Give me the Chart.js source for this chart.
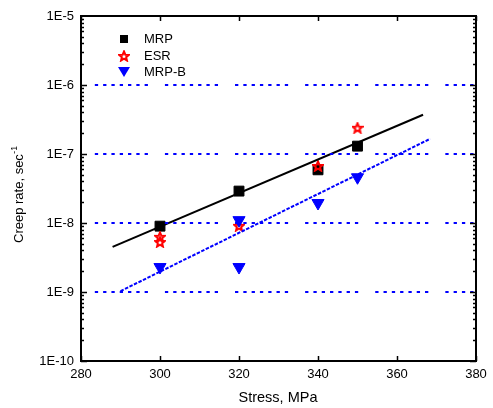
<!DOCTYPE html>
<html>
<head>
<meta charset="utf-8">
<script src="https://cdn.jsdelivr.net/npm/chart.js@4.4.1/dist/chart.umd.min.js"></script>
<style>
  html, body { margin: 0; padding: 0; background: #fff; }
  #wrap { width: 493px; height: 408px; }
</style>
</head>
<body>
<div id="wrap"><canvas id="creep_chart"></canvas></div>
<script>
// stress (MPa) and creep rate (1/s)
const mrpStress = [300, 320, 340, 350];
const mrpRate = [9.0e-9, 2.9e-8, 5.9e-8, 1.3e-7];

const esrStress = [300, 300, 320, 340, 350];
const esrRate = [6.3e-9, 5.3e-9, 9.1e-9, 6.7e-8, 2.4e-7];

const mrpbStress = [300, 320, 320, 340, 350];
const mrpbRate = [2.3e-9, 1.1e-8, 2.3e-9, 1.95e-8, 4.6e-8];

// fitted lines (end points)
const mrpFitStress = [288, 366.6];
const mrpFitRate = [4.5e-9, 3.7e-7];
const mrpbFitStress = [290, 368.4];
const mrpbFitRate = [1.03e-9, 1.66e-7];

// dotted reference levels
const refLevels = [1e-6, 1e-7, 1e-8, 1e-9];
const refStress = [283.5, 380];

const xTicks = [280, 300, 320, 340, 360, 380];
const yTicks = [1e-10, 1e-9, 1e-8, 1e-7, 1e-6, 1e-5];

const pts = (xs, ys) => xs.map((x, i) => ({ x: x, y: ys[i] }));

// red five point star used as marker
function makeStar(size) {
    const c = document.createElement('canvas');
    c.width = size; c.height = size;
    const g = c.getContext('2d');
    const cx = size / 2, cy = size / 2 + 0.5, ro = size / 2 - 1, ri = ro * 0.45;
    g.beginPath();
    for (let i = 0; i < 10; i++) {
        const r = i % 2 ? ri : ro;
        const a = -Math.PI / 2 + i * Math.PI / 5;
        g.lineTo(cx + r * Math.cos(a), cy + r * Math.sin(a));
    }
    g.closePath();
    g.strokeStyle = '#ff0000';
    g.lineWidth = 2;
    g.stroke();
    return c;
}
const star = makeStar(12);

const blueDots = [3.3, 5, 3.3, 5, 3.3, 5, 3.3, 5, 3.3, 5, 3.3, 5, 3.3, 17];

const datasets = [];
refLevels.forEach(lv => {
    datasets.push({
        label: 'ref',
        data: pts(refStress, [lv, lv]),
        showLine: true,
        borderColor: '#0000ff',
        borderWidth: 2,
        borderDash: blueDots,
        pointRadius: 0
    });
});
datasets.push({
    label: 'fitB',
    data: pts(mrpbFitStress, mrpbFitRate),
    showLine: true,
    borderColor: '#0000ff',
    borderWidth: 2,
    borderDash: [3.5, 1.5],
    pointRadius: 0
});
datasets.push({
    label: 'fit',
    data: pts(mrpFitStress, mrpFitRate),
    showLine: true,
    borderColor: '#000000',
    borderWidth: 2,
    pointRadius: 0
});
datasets.push({
    label: 'MRP-B',
    data: pts(mrpbStress, mrpbRate),
    pointStyle: 'triangle',
    rotation: 180,
    pointRadius: 7,
    backgroundColor: '#0000ff',
    borderColor: '#0000ff',
    borderWidth: 1
});
datasets.push({
    label: 'ESR',
    data: pts(esrStress, esrRate),
    pointStyle: star,
    pointRadius: 6
});
datasets.push({
    label: 'MRP',
    data: pts(mrpStress, mrpRate),
    pointStyle: 'rect',
    pointRadius: 7,
    backgroundColor: '#000000',
    borderColor: '#000000',
    borderWidth: 1
});

// frame, inward ticks, axis titles and legend
const decor = {
    id: 'decor',
    afterDraw(chart) {
        const ctx = chart.ctx;
        const a = chart.chartArea;
        const xs = chart.scales.x, ys = chart.scales.y;
        ctx.save();
        ctx.strokeStyle = '#000';
        ctx.lineWidth = 2;
        ctx.strokeRect(a.left, a.top, a.right - a.left, a.bottom - a.top);

        ctx.lineWidth = 1.5;
        ctx.beginPath();
        xTicks.forEach(v => {
            const px = Math.round(xs.getPixelForValue(v)) + 0.5;
            ctx.moveTo(px, a.bottom); ctx.lineTo(px, a.bottom - 5);
            ctx.moveTo(px, a.top); ctx.lineTo(px, a.top + 5);
        });
        for (let e = -10; e < -5; e++) {
            for (let m = 1; m <= 9; m++) {
                const py = Math.round(ys.getPixelForValue(m * Math.pow(10, e))) + 0.5;
                const len = m === 1 ? 6 : 3;
                ctx.moveTo(a.left, py); ctx.lineTo(a.left + len, py);
                ctx.moveTo(a.right, py); ctx.lineTo(a.right - len, py);
            }
        }
        ctx.stroke();

        ctx.fillStyle = '#000';
        ctx.font = '14.5px "Liberation Sans", Arial, sans-serif';
        ctx.textAlign = 'center';
        ctx.textBaseline = 'alphabetic';
        ctx.fillText('Stress, MPa', 278, 402);

        ctx.save();
        ctx.translate(23, 243);
        ctx.rotate(-Math.PI / 2);
        ctx.font = '13px "Liberation Sans", Arial, sans-serif';
        ctx.textAlign = 'left';
        ctx.fillText('Creep rate, sec', 0, 0);
        const w = ctx.measureText('Creep rate, sec').width;
        ctx.font = '8.5px "Liberation Sans", Arial, sans-serif';
        ctx.fillText('-1', w + 0.5, -6);
        ctx.restore();

        // legend
        ctx.font = '13px "Liberation Sans", Arial, sans-serif';
        ctx.textAlign = 'left';
        ctx.textBaseline = 'middle';
        const lx = 124;
        ctx.fillRect(lx - 4, 35, 8, 8);
        ctx.fillText('MRP', 144, 39.5);
        ctx.drawImage(star, lx - 6, 50, 12, 12);
        ctx.fillText('ESR', 144, 56.5);
        ctx.fillStyle = '#0000ff';
        ctx.beginPath();
        ctx.moveTo(lx - 6, 67); ctx.lineTo(lx + 6, 67); ctx.lineTo(lx, 77);
        ctx.closePath(); ctx.fill();
        ctx.fillStyle = '#000';
        ctx.fillText('MRP-B', 144, 72.5);
        ctx.restore();
    }
};

const ctx = document.getElementById('creep_chart').getContext('2d');

new Chart(ctx, {
    type: 'scatter',
    data: { datasets: datasets },
    options: {
        responsive: true,
        maintainAspectRatio: false,
        animation: false,
        layout: { padding: { top: 16, right: 17, left: 0, bottom: 0 } },
        plugins: {
            legend: { display: false },
            tooltip: { enabled: false }
        },
        scales: {
            x: {
                type: 'linear',
                min: 280,
                max: 380,
                afterBuildTicks: s => { s.ticks = xTicks.map(v => ({ value: v })); },
                afterFit: s => { s.height = 47; },
                grid: { display: false, drawTicks: false },
                border: { display: false },
                ticks: {
                    color: '#000',
                    padding: 6,
                    maxRotation: 0,
                    font: { family: '"Liberation Sans", Arial, sans-serif', size: 13 }
                }
            },
            y: {
                type: 'logarithmic',
                min: 1e-10,
                max: 1e-5,
                afterBuildTicks: s => { s.ticks = yTicks.map(v => ({ value: v })); },
                afterFit: s => { s.width = 81; },
                grid: { display: false, drawTicks: false },
                border: { display: false },
                ticks: {
                    color: '#000',
                    padding: 7,
                    font: { family: '"Liberation Sans", Arial, sans-serif', size: 13 },
                    callback: v => '1E' + Math.round(Math.log10(v))
                }
            }
        }
    },
    plugins: [decor]
});
</script>
</body>
</html>
